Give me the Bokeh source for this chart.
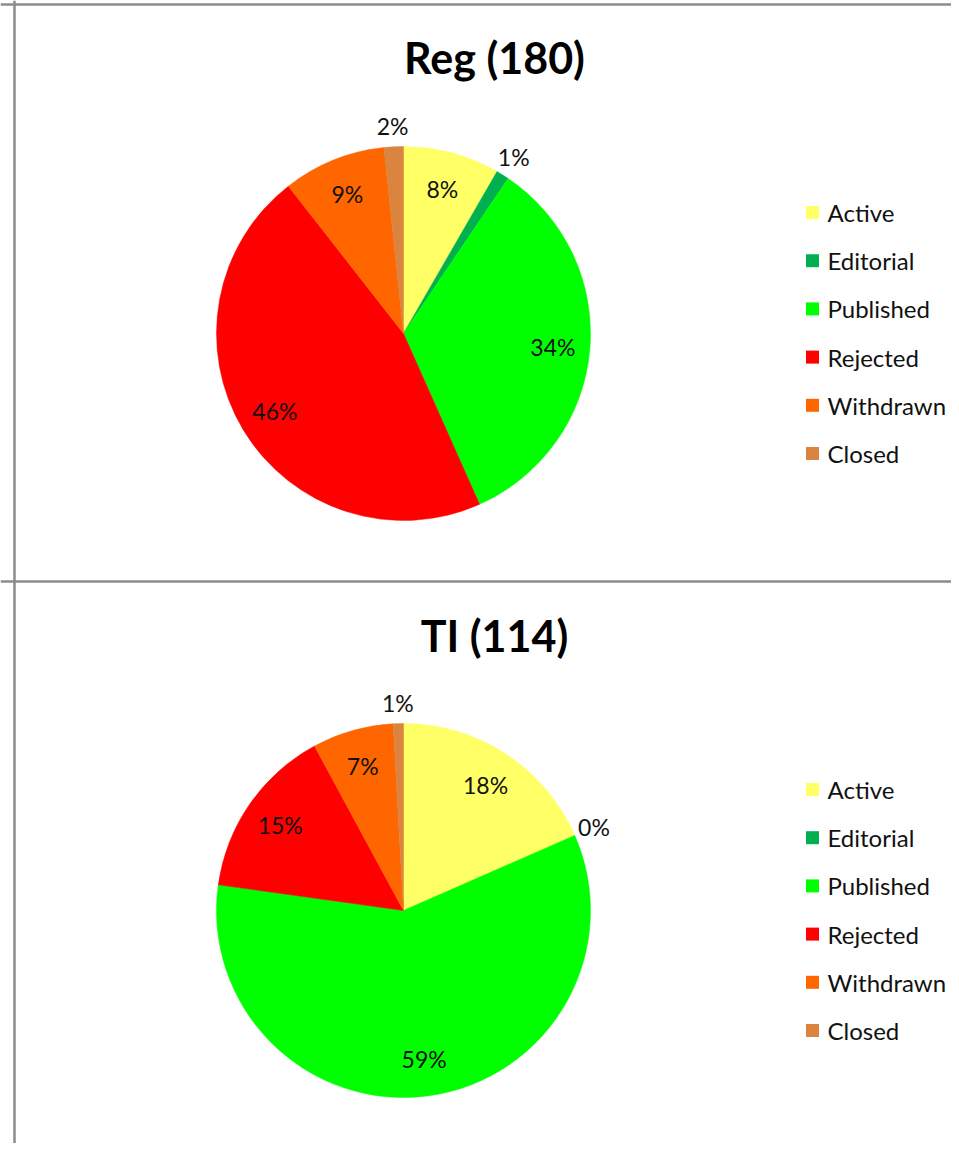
import math
from bokeh.plotting import figure
from bokeh.models import Range1d, Span
from bokeh.core.properties import value
from bokeh.embed import file_html
from bokeh.resources import INLINE

# ---- data ----
categories = ["Active", "Editorial", "Published", "Rejected", "Withdrawn", "Closed"]
colors = ["#FFFF66", "#00B050", "#00FF00", "#FF0000", "#FF6600", "#DA843F"]
reg_title = "Reg (180)"
reg_counts = [15, 2, 61, 83, 16, 3]
ti_title = "TI (114)"
ti_counts = [21, 0, 67, 17, 8, 1]

FONT = "Lato"
W, H = 951, 1143

p = figure(width=W, height=H, output_backend="svg", toolbar_location=None,
           x_range=Range1d(1, 952), y_range=Range1d(7, 1150),
           min_border=0, min_border_left=0, min_border_right=0,
           min_border_top=0, min_border_bottom=0)
p.axis.visible = False
p.grid.visible = False
p.outline_line_color = None
p.background_fill_color = "white"
p.border_fill_color = "white"

def sy(screen_y):
    return 1151 - screen_y

R = 187

def draw_panel(title, counts, cx, cy_screen, title_y, legend_y0):
    cy = sy(cy_screen)
    total = sum(counts)
    cum = 0
    xs, ys, starts, ends, cols = [], [], [], [], []
    lx, ly, lt = [], [], []
    for cat, c, col in zip(categories, counts, colors):
        f0 = cum / total
        cum += c
        f1 = cum / total
        if c > 0:
            xs.append(cx); ys.append(cy)
            starts.append(math.pi / 2 - 2 * math.pi * f1)
            ends.append(math.pi / 2 - 2 * math.pi * f0)
            cols.append(col)
        pct = 100.0 * c / total
        mid = math.pi / 2 - 2 * math.pi * (f0 + f1) / 2
        r = 208 if pct < 3 else 150
        lx.append(cx + r * math.cos(mid))
        ly.append(cy + r * math.sin(mid))
        lt.append(f"{round(pct):d}%")
    p.wedge(x=xs, y=ys, radius=R, start_angle=starts, end_angle=ends,
            direction="anticlock", fill_color=cols, line_color=cols, line_width=0.5)
    p.text(x=lx, y=ly, text=lt, text_font=value(FONT), text_font_size="23px",
           text_color="#111111", text_align="center", text_baseline="middle")
    # title
    p.text(x=[495], y=[sy(title_y)], text=[title], text_font=value(FONT),
           text_font_size="43px", text_font_style="bold", text_color="black",
           text_align="center", text_baseline="middle")
    # legend
    gap = 48.2
    leg_y = [sy(legend_y0 + i * gap) for i in range(len(categories))]
    p.scatter(x=[813] * len(categories), y=leg_y, marker="square", size=13,
              fill_color=colors, line_color=None)
    p.text(x=[828] * len(categories), y=leg_y, text=categories,
           text_font=value(FONT), text_font_size="24px", text_color="#111111",
           text_align="left", text_baseline="middle")

draw_panel(reg_title, reg_counts, 404, 334, 58, 213)
draw_panel(ti_title, ti_counts, 404, 911, 636, 790)

# frame lines
frame = "#8C8C8C"
p.add_layout(Span(location=15, dimension="height", line_color=frame, line_width=2.5))
p.add_layout(Span(location=sy(582), dimension="width", line_color=frame, line_width=2.5))
p.add_layout(Span(location=sy(5), dimension="width", line_color=frame, line_width=2.5))

open("out.html", "w").write(file_html(p, INLINE))
